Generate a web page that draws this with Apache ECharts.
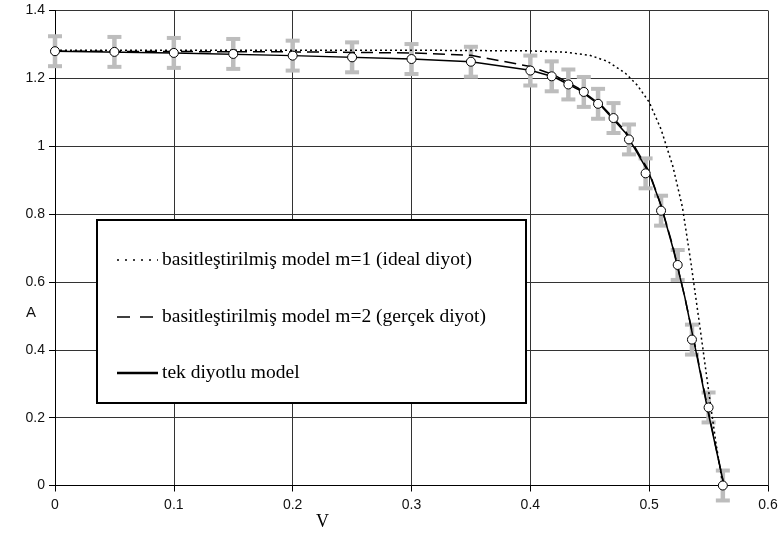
<!DOCTYPE html>
<html>
<head>
<meta charset="utf-8">
<script src="https://cdn.jsdelivr.net/npm/echarts@6/dist/echarts.min.js"></script>
<style>
  html, body { margin: 0; padding: 0; background: #fff; }
  #chart { width: 783px; height: 538px; }
</style>
</head>
<body>
<div id="chart"></div>
<script>
// measured points (open circles) with error bars
var markerV = [0, 0.05, 0.1, 0.15, 0.2, 0.25, 0.3, 0.35, 0.4, 0.418, 0.432, 0.445, 0.457, 0.47, 0.483, 0.497, 0.51, 0.524, 0.536, 0.55, 0.562];
var markerI = [1.28, 1.278, 1.275, 1.272, 1.267, 1.262, 1.257, 1.249, 1.223, 1.206, 1.182, 1.16, 1.125, 1.083, 1.02, 0.92, 0.81, 0.65, 0.43, 0.23, 0];
var errHalf = [0.05, 0.05, 0.05, 0.05, 0.05, 0.05, 0.05, 0.05, 0.05, 0.05, 0.05, 0.05, 0.05, 0.05, 0.05, 0.05, 0.05, 0.05, 0.05, 0.05, 0.05];

// simplified model m=1 (dotted)
var idealV = [0, 0.1, 0.2, 0.3, 0.4, 0.43, 0.45, 0.465, 0.48, 0.49, 0.5, 0.51, 0.52, 0.528, 0.535, 0.543, 0.55, 0.556, 0.562];
var idealI = [1.283, 1.283, 1.283, 1.283, 1.281, 1.277, 1.268, 1.25, 1.215, 1.18, 1.13, 1.05, 0.94, 0.82, 0.66, 0.46, 0.28, 0.13, 0];

// simplified model m=2 (dashed)
var realV = [0, 0.1, 0.2, 0.3, 0.35, 0.4, 0.42, 0.44, 0.46, 0.48, 0.5, 0.51, 0.52, 0.53, 0.54, 0.55, 0.563];
var realI = [1.28, 1.279, 1.278, 1.275, 1.268, 1.235, 1.21, 1.172, 1.12, 1.045, 0.925, 0.825, 0.705, 0.555, 0.39, 0.215, 0];

// single diode model (solid)
var singleV = [0, 0.1, 0.2, 0.3, 0.35, 0.4, 0.42, 0.44, 0.46, 0.48, 0.5, 0.51, 0.52, 0.53, 0.54, 0.55, 0.563];
var singleI = [1.28, 1.275, 1.267, 1.257, 1.249, 1.224, 1.204, 1.168, 1.117, 1.04, 0.92, 0.825, 0.7, 0.555, 0.385, 0.21, 0];

var xTicks = ['0', '0.1', '0.2', '0.3', '0.4', '0.5', '0.6'];
var yTicks = ['0', '0.2', '0.4', '0.6', '0.8', '1', '1.2', '1.4'];

var seriesNames = [
  'basitleştirilmiş model m=1 (ideal diyot)',
  'basitleştirilmiş model m=2 (gerçek diyot)',
  'tek diyotlu model'
];

function pairs(xs, ys) {
  return xs.map(function (x, i) { return [x, ys[i]]; });
}

var errData = markerV.map(function (v, i) {
  return [v, markerI[i] - errHalf[i], markerI[i] + errHalf[i]];
});

var axisFont = '"Liberation Sans", Arial, sans-serif';
var serifFont = '"Liberation Serif", "DejaVu Serif", serif';

var chart = echarts.init(document.getElementById('chart'));

// legend box drawn by hand (Excel style)
var legendRows = [260, 317, 373];
var legendDash = [[2, 6], [13, 10], null];
var legendWidth = [1.5, 1.5, 2.5];
var legendGraphic = [
  {
    type: 'rect', z: 100,
    shape: { x: 97, y: 220, width: 429, height: 183 },
    style: { fill: '#fff', stroke: '#000', lineWidth: 2 }
  }
];
seriesNames.forEach(function (name, i) {
  legendGraphic.push({
    type: 'line', z: 101,
    shape: { x1: 117, y1: legendRows[i], x2: 158, y2: legendRows[i] },
    style: { stroke: '#000', lineWidth: legendWidth[i], lineDash: legendDash[i] }
  });
  legendGraphic.push({
    type: 'text', z: 101, x: 162, y: legendRows[i],
    style: { text: name, font: '19.5px ' + serifFont, fill: '#000', verticalAlign: 'middle' }
  });
});

var option = {
  animation: false,
  backgroundColor: '#fff',
  grid: { left: 55, right: 15, top: 10.5, bottom: 52.5, containLabel: false },
  xAxis: {
    type: 'value',
    min: 0, max: 0.6, interval: 0.1,
    axisLine: { show: true, onZero: false, lineStyle: { color: '#000', width: 1 } },
    axisTick: { show: true, length: 6, inside: false, lineStyle: { color: '#000' } },
    axisLabel: {
      margin: 13, color: '#111', fontSize: 14, fontFamily: axisFont,
      formatter: function (val) { return xTicks[Math.round(val * 10)]; }
    },
    splitLine: { show: true, lineStyle: { color: '#333', width: 1 } }
  },
  yAxis: {
    type: 'value',
    min: 0, max: 1.4, interval: 0.2,
    axisLine: { show: true, onZero: false, lineStyle: { color: '#000', width: 1 } },
    axisTick: { show: true, length: 6, inside: false, lineStyle: { color: '#000' } },
    axisLabel: {
      margin: 10, color: '#111', fontSize: 14, fontFamily: axisFont,
      formatter: function (val) { return yTicks[Math.round(val * 5)]; }
    },
    splitLine: { show: true, lineStyle: { color: '#333', width: 1 } }
  },
  graphic: legendGraphic.concat([
    { type: 'text', left: 26, top: 305, style: { text: 'A', font: '15px ' + axisFont, fill: '#111' } },
    { type: 'text', left: 316, top: 513, style: { text: 'V', font: '18px ' + serifFont, fill: '#000' } }
  ]),
  series: [
    {
      name: 'errors',
      type: 'custom',
      clip: false,
      z: 1,
      data: errData,
      renderItem: function (params, api) {
        var v = api.value(0);
        var top = api.coord([v, api.value(2)]);
        var bot = api.coord([v, api.value(1)]);
        var st = { stroke: '#bdbdbd', lineWidth: 4.5 };
        var capSt = { stroke: '#bdbdbd', lineWidth: 4 };
        return {
          type: 'group',
          children: [
            { type: 'line', shape: { x1: top[0], y1: top[1] + 2, x2: bot[0], y2: bot[1] - 2 }, style: st },
            { type: 'line', shape: { x1: top[0] - 7, y1: top[1] + 2, x2: top[0] + 7, y2: top[1] + 2 }, style: capSt },
            { type: 'line', shape: { x1: bot[0] - 7, y1: bot[1] - 2, x2: bot[0] + 7, y2: bot[1] - 2 }, style: capSt }
          ]
        };
      }
    },
    {
      name: seriesNames[0],
      type: 'line',
      symbol: 'none',
      z: 3,
      data: pairs(idealV, idealI),
      lineStyle: { color: '#000', width: 1.5, type: [2, 3] }
    },
    {
      name: seriesNames[1],
      type: 'line',
      symbol: 'none',
      z: 3,
      data: pairs(realV, realI),
      lineStyle: { color: '#000', width: 1.5, type: [12, 6] }
    },
    {
      name: seriesNames[2],
      type: 'line',
      symbol: 'none',
      z: 3,
      data: pairs(singleV, singleI),
      lineStyle: { color: '#000', width: 1.5, type: 'solid' }
    },
    {
      name: 'measured',
      type: 'scatter',
      z: 4,
      clip: false,
      symbol: 'circle',
      symbolSize: 9,
      data: pairs(markerV, markerI),
      itemStyle: { color: '#fff', borderColor: '#000', borderWidth: 1, opacity: 1 }
    }
  ]
};

chart.setOption(option);
</script>
</body>
</html>
